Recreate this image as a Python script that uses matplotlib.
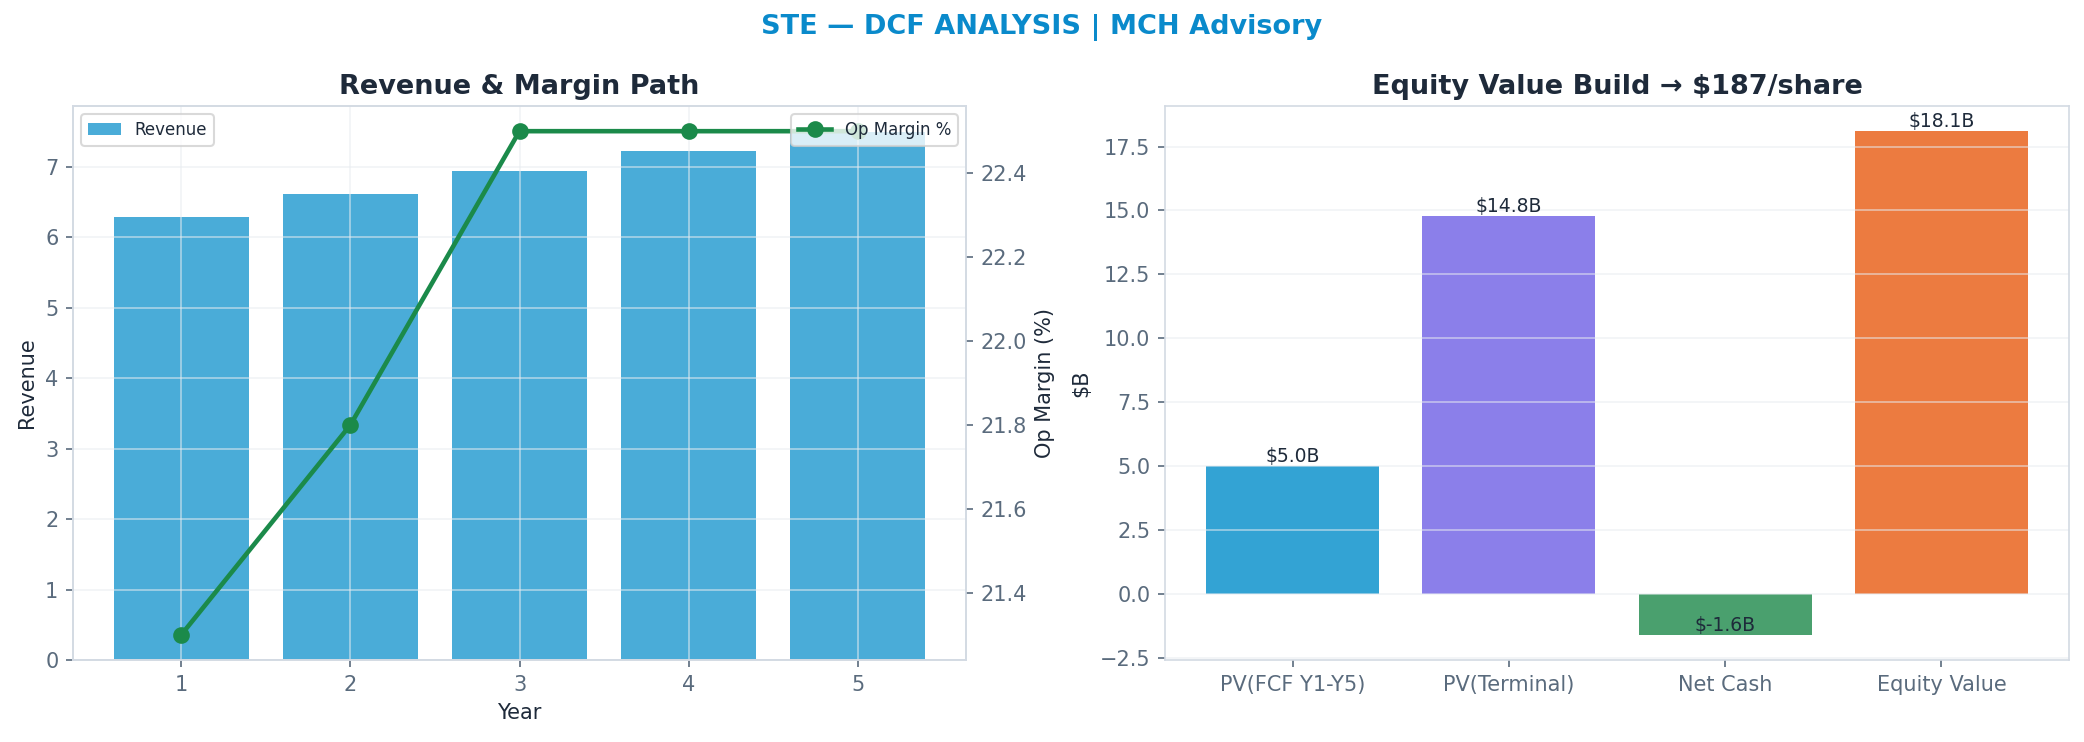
import numpy as np
import matplotlib
matplotlib.use("Agg")
from matplotlib import pyplot as plt

# data
years = [1, 2, 3, 4, 5]
revenue = [6.29, 6.61, 6.94, 7.22, 7.49]
op_margin = [21.3, 21.8, 22.5, 22.5, 22.5]

bridge_labels = ["PV(FCF Y1-Y5)", "PV(Terminal)", "Net Cash", "Equity Value"]
bridge_values = [5.0, 14.8, -1.6, 18.1]
bridge_colors = ["#33a3d4", "#8b7fea", "#4aa06e", "#ec7b40"]

TXT = "#1e2a3a"
TICK = "#5a6b7d"
SPINE = "#d3dae3"

plt.rcParams.update({
    "axes.edgecolor": SPINE,
    "xtick.color": TICK,
    "ytick.color": TICK,
    "xtick.labelcolor": TICK,
    "ytick.labelcolor": TICK,
    "axes.labelcolor": TXT,
    "font.size": 10,
})

fig = plt.figure(figsize=(2084/150, 742/150), dpi=150)
ax1 = fig.add_axes([73/2084, 1-660/742, 893/2084, 554/742])
ax3 = fig.add_axes([1165/2084, 1-660/742, 904/2084, 554/742])

fig.text(0.5, 0.963, "STE \u2014 DCF ANALYSIS | MCH Advisory", ha="center", va="center",
         fontsize=13, fontweight="bold", color="#0a8acb")

# left: revenue bars + margin line
ax1.bar(years, revenue, width=0.8, color="#4aacd8", label="Revenue")
ax1.set_xlabel("Year")
ax1.set_ylabel("Revenue")
ax1.set_title("Revenue & Margin Path", fontsize=13, fontweight="bold", color=TXT)
ax1.grid(True, color="#e8ecf1", alpha=0.6, linewidth=0.8)
ax1.legend(loc="upper left", fontsize=8, labelcolor=TXT, edgecolor="#d0d0d0")

ax2 = ax1.twinx()
ax2.plot(years, op_margin, color="#1b8a4a", marker="o", linewidth=2.2, markersize=7,
         label="Op Margin %")
ax2.set_ylabel("Op Margin (%)")
ax2.legend(loc="upper right", fontsize=8, labelcolor=TXT, edgecolor="#d0d0d0")

# right: equity bridge
x = np.arange(len(bridge_labels))
ax3.bar(x, bridge_values, width=0.8, color=bridge_colors)
for xi, v in zip(x, bridge_values):
    ax3.text(xi, v, f"${v:.1f}B", ha="center", va="bottom", fontsize=9, color=TXT)
ax3.set_xticks(x)
ax3.set_xticklabels(bridge_labels)
ax3.set_ylabel("$B")
ax3.set_title("Equity Value Build \u2192 $187/share", fontsize=13, fontweight="bold", color=TXT)
ax3.grid(True, axis="y", color="#e8ecf1", alpha=0.6, linewidth=0.8)

plt.savefig("out.png", dpi=150)
